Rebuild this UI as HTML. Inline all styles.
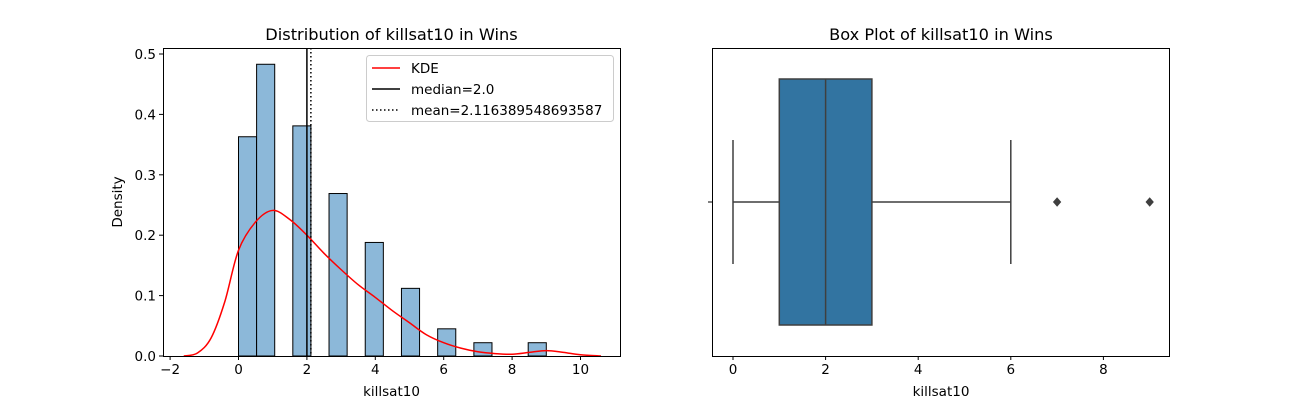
<!DOCTYPE html>
<html><head><meta charset="utf-8"><style>
body{margin:0;background:#fff}
svg text{font-family:"DejaVu Sans","Liberation Sans",sans-serif;fill:#000}
</style></head><body>
<svg id="c" width="1300" height="400" xmlns="http://www.w3.org/2000/svg"></svg>
<script>
const binWidth=9/17;
const binIdx=[0,1,3,5,7,9,11,13,16];
const densities=[0.363,0.483,0.381,0.269,0.188,0.112,0.045,0.022,0.022];
const kdeX=[-1.6,-1.2,-0.8,-0.4,0,0.5,1,1.5,2,2.5,3,3.5,4,4.5,5,5.5,6,6.5,7,7.5,8,8.5,9,9.5,10,10.6];
const kdeY=[0,0.005,0.03,0.09,0.175,0.222,0.241,0.226,0.2,0.17,0.143,0.118,0.097,0.075,0.055,0.035,0.022,0.013,0.007,0.004,0.003,0.006,0.009,0.006,0.002,0];
const median=2.0, mean=2.116389548693587;
const xTicksL=[-2,0,2,4,6,8,10], yTicksL=[0,0.1,0.2,0.3,0.4,0.5];
const boxStats={min:0,q1:1,med:2,q3:3,max:6};
const outliers=[7,9];
const xTicksR=[0,2,4,6,8];

const svg=document.getElementById('c');const NS='http://www.w3.org/2000/svg';
function el(t,a,p){const e=document.createElementNS(NS,t);for(const k in a)e.setAttribute(k,a[k]);(p||svg).appendChild(e);return e;}
function txt(s,a){const e=el('text',a);e.textContent=s;return e;}
const xL=v=>238.5+v*34.2, yL=v=>356-v*604;
const xR=v=>733+v*46.3;
binIdx.forEach((b,i)=>{const x0=xL(b*binWidth),x1=xL((b+1)*binWidth);
const r=el('rect',{x:x0,y:yL(densities[i]),width:x1-x0,height:356-yL(densities[i]),fill:'#8cb8d9',stroke:'#000','stroke-width':1});
});
// smooth KDE via Catmull-Rom
const P=kdeX.map((x,i)=>[xL(x),yL(kdeY[i])]);
let d='M'+P[0][0]+','+P[0][1];
for(let i=0;i<P.length-1;i++){const p0=P[Math.max(0,i-1)],p1=P[i],p2=P[i+1],p3=P[Math.min(P.length-1,i+2)];
d+=` C${p1[0]+(p2[0]-p0[0])/6},${p1[1]+(p2[1]-p0[1])/6} ${p2[0]-(p3[0]-p1[0])/6},${p2[1]-(p3[1]-p1[1])/6} ${p2[0]},${p2[1]}`;}
const kde=el('path',{d:d,fill:'none',stroke:'red','stroke-width':1.5});

const ml=el('line',{x1:xL(median),x2:xL(median),y1:48,y2:356,stroke:'#000','stroke-width':1.5});

const mn=el('line',{x1:xL(mean),x2:xL(mean),y1:48,y2:356,stroke:'#000','stroke-width':1.5,'stroke-dasharray':'1.5,2.5'});

const ax1=el('rect',{x:163.5,y:48.5,width:457,height:308,fill:'none',stroke:'#000'});

xTicksL.forEach(t=>{el('line',{x1:xL(t),x2:xL(t),y1:356,y2:360,stroke:'#000'});const e=txt(String(t).replace('-','−'),{x:xL(t),y:374,'font-size':13.5,'text-anchor':'middle'});});
yTicksL.forEach(t=>{el('line',{x1:159,x2:163,y1:yL(t),y2:yL(t),stroke:'#000'});const e=txt(t.toFixed(1),{x:156,y:yL(t)+5,'font-size':13.5,'text-anchor':'end'});});
let e;
e=txt('Distribution of killsat10 in Wins',{x:391.5,y:40,'font-size':16.2,'text-anchor':'middle'});
e=txt('killsat10',{x:391.5,y:396,'font-size':13.5,'text-anchor':'middle'});
e=txt('Density',{x:0,y:0,'font-size':13.5,'text-anchor':'middle',transform:'translate(122,202) rotate(-90)'});
const lg=el('g',{});
el('rect',{x:366.5,y:55.5,width:247,height:66,rx:3,fill:'#fff',stroke:'#ccc'},lg);
[['KDE','red',''],['median=2.0','#000',''],['mean='+mean,'#000','1.5,2.5']].forEach((dd,i)=>{const y=68+i*21;
el('line',{x1:372,x2:400,y1:y,y2:y,stroke:dd[1],'stroke-width':1.5,'stroke-dasharray':dd[2]||'none'},lg);
const t=el('text',{x:411,y:y+5,'font-size':13.5},lg);t.textContent=dd[0];});
const ax2=el('rect',{x:712.5,y:48.5,width:457,height:308,fill:'none',stroke:'#000'});

const g=el('g',{stroke:'#3f3f3f','stroke-width':1.5});
el('rect',{x:xR(boxStats.q1),y:79,width:xR(boxStats.q3)-xR(boxStats.q1),height:246,fill:'#3274a1'},g);
el('line',{x1:xR(boxStats.med),x2:xR(boxStats.med),y1:79,y2:325},g);
el('line',{x1:xR(boxStats.min),x2:xR(boxStats.q1),y1:202,y2:202},g);
el('line',{x1:xR(boxStats.q3),x2:xR(boxStats.max),y1:202,y2:202},g);
el('line',{x1:xR(boxStats.min),x2:xR(boxStats.min),y1:140,y2:264},g);
el('line',{x1:xR(boxStats.max),x2:xR(boxStats.max),y1:140,y2:264},g);
outliers.forEach(o=>{const p=el('path',{d:`M${xR(o)-3.5},202 L${xR(o)},198 L${xR(o)+3.5},202 L${xR(o)},206 Z`,fill:'#3f3f3f','stroke-width':1},g);});
el('line',{x1:708,x2:712,y1:202,y2:202,stroke:'#000'});
xTicksR.forEach(t=>{el('line',{x1:xR(t),x2:xR(t),y1:356,y2:360,stroke:'#000'});const e=txt(String(t),{x:xR(t),y:374,'font-size':13.5,'text-anchor':'middle'});});
e=txt('Box Plot of killsat10 in Wins',{x:941,y:40,'font-size':16.2,'text-anchor':'middle'});
e=txt('killsat10',{x:941,y:396,'font-size':13.5,'text-anchor':'middle'});
</script>
</body></html>
